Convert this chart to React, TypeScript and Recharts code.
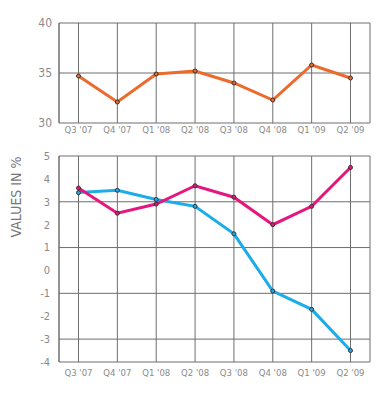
import React from "react";
import {
  LineChart,
  Line,
  XAxis,
  YAxis,
  CartesianGrid,
} from "recharts";

const quarters = ["Q3 '07", "Q4 '07", "Q1 '08", "Q2 '08", "Q3 '08", "Q4 '08", "Q1 '09", "Q2 '09"];
const orangeValues = [34.7, 32.1, 34.9, 35.2, 34.0, 32.3, 35.8, 34.5];
const pinkValues = [3.6, 2.5, 2.9, 3.7, 3.2, 2.0, 2.8, 4.5];
const blueValues = [3.4, 3.5, 3.1, 2.8, 1.6, -0.9, -1.7, -3.5];
const topTicks = [30, 35, 40];
const bottomTicks = [-4, -3, -2, -1, 0, 1, 2, 3, 4, 5];

const topData = quarters.map((q, i) => ({ name: q, value: orangeValues[i] }));
const bottomData = quarters.map((q, i) => ({ name: q, pink: pinkValues[i], blue: blueValues[i] }));

const FONT = "'DejaVu Sans Condensed', 'Liberation Sans Narrow', sans-serif";
const GRID = "#6e6e6e";
const TEXT = "#8a8a8a";

const dot = (color: string) => ({ r: 2, fill: color, stroke: "#333", strokeWidth: 1 });

export default function App() {
  return (
    <div style={{ position: "absolute", left: 0, top: 0, width: 391, height: 397, background: "#fff" }}>
      <div style={{ position: "absolute", left: 0, top: 0 }}>
        <LineChart width={391} height={145} data={topData} margin={{ top: 23, right: 21, bottom: 2, left: 0 }}>
          <CartesianGrid stroke={GRID} strokeWidth={1} />
          <XAxis
            dataKey="name"
            interval={0}
            padding={{ left: 19.5, right: 19.5 }}
            height={20}
            tickSize={0}
            tickMargin={3}
            axisLine={false}
            tick={{ fill: TEXT, fontSize: 9.5, fontFamily: FONT }}
          />
          <YAxis
            domain={[30, 40]}
            ticks={topTicks}
            width={59}
            tickSize={0}
            tickMargin={7}
            axisLine={{ stroke: GRID }}
            tick={{ fill: TEXT, fontSize: 12, fontFamily: FONT }}
          />
          <Line
            dataKey="value"
            stroke="#ec6a2c"
            strokeWidth={3}
            dot={dot("#ec6a2c")}
            isAnimationActive={false}
          />
        </LineChart>
      </div>
      <div style={{ position: "absolute", left: 0, top: 140 }}>
        <LineChart width={391} height={245} data={bottomData} margin={{ top: 16, right: 21, bottom: 3, left: 0 }}>
          <CartesianGrid stroke={GRID} strokeWidth={1} />
          <XAxis
            dataKey="name"
            interval={0}
            padding={{ left: 19.5, right: 19.5 }}
            height={20}
            tickSize={0}
            tickMargin={7}
            axisLine={false}
            tick={{ fill: TEXT, fontSize: 9.5, fontFamily: FONT }}
          />
          <YAxis
            domain={[-4, 5]}
            ticks={bottomTicks}
            width={59}
            tickSize={0}
            tickMargin={9}
            axisLine={{ stroke: GRID }}
            tick={{ fill: TEXT, fontSize: 11, fontFamily: FONT }}
          />
          <Line
            dataKey="blue"
            stroke="#1badea"
            strokeWidth={3}
            dot={dot("#1badea")}
            isAnimationActive={false}
          />
          <Line
            dataKey="pink"
            stroke="#e5167e"
            strokeWidth={3}
            dot={dot("#e5167e")}
            isAnimationActive={false}
          />
        </LineChart>
      </div>
      <div
        style={{
          position: "absolute",
          left: 16,
          top: 197,
          transform: "translate(-50%, -50%) rotate(-90deg)",
          whiteSpace: "nowrap",
          fontFamily: FONT,
          fontSize: 14,
          color: "#777",
        }}
      >
        VALUES IN %
      </div>
    </div>
  );
}
